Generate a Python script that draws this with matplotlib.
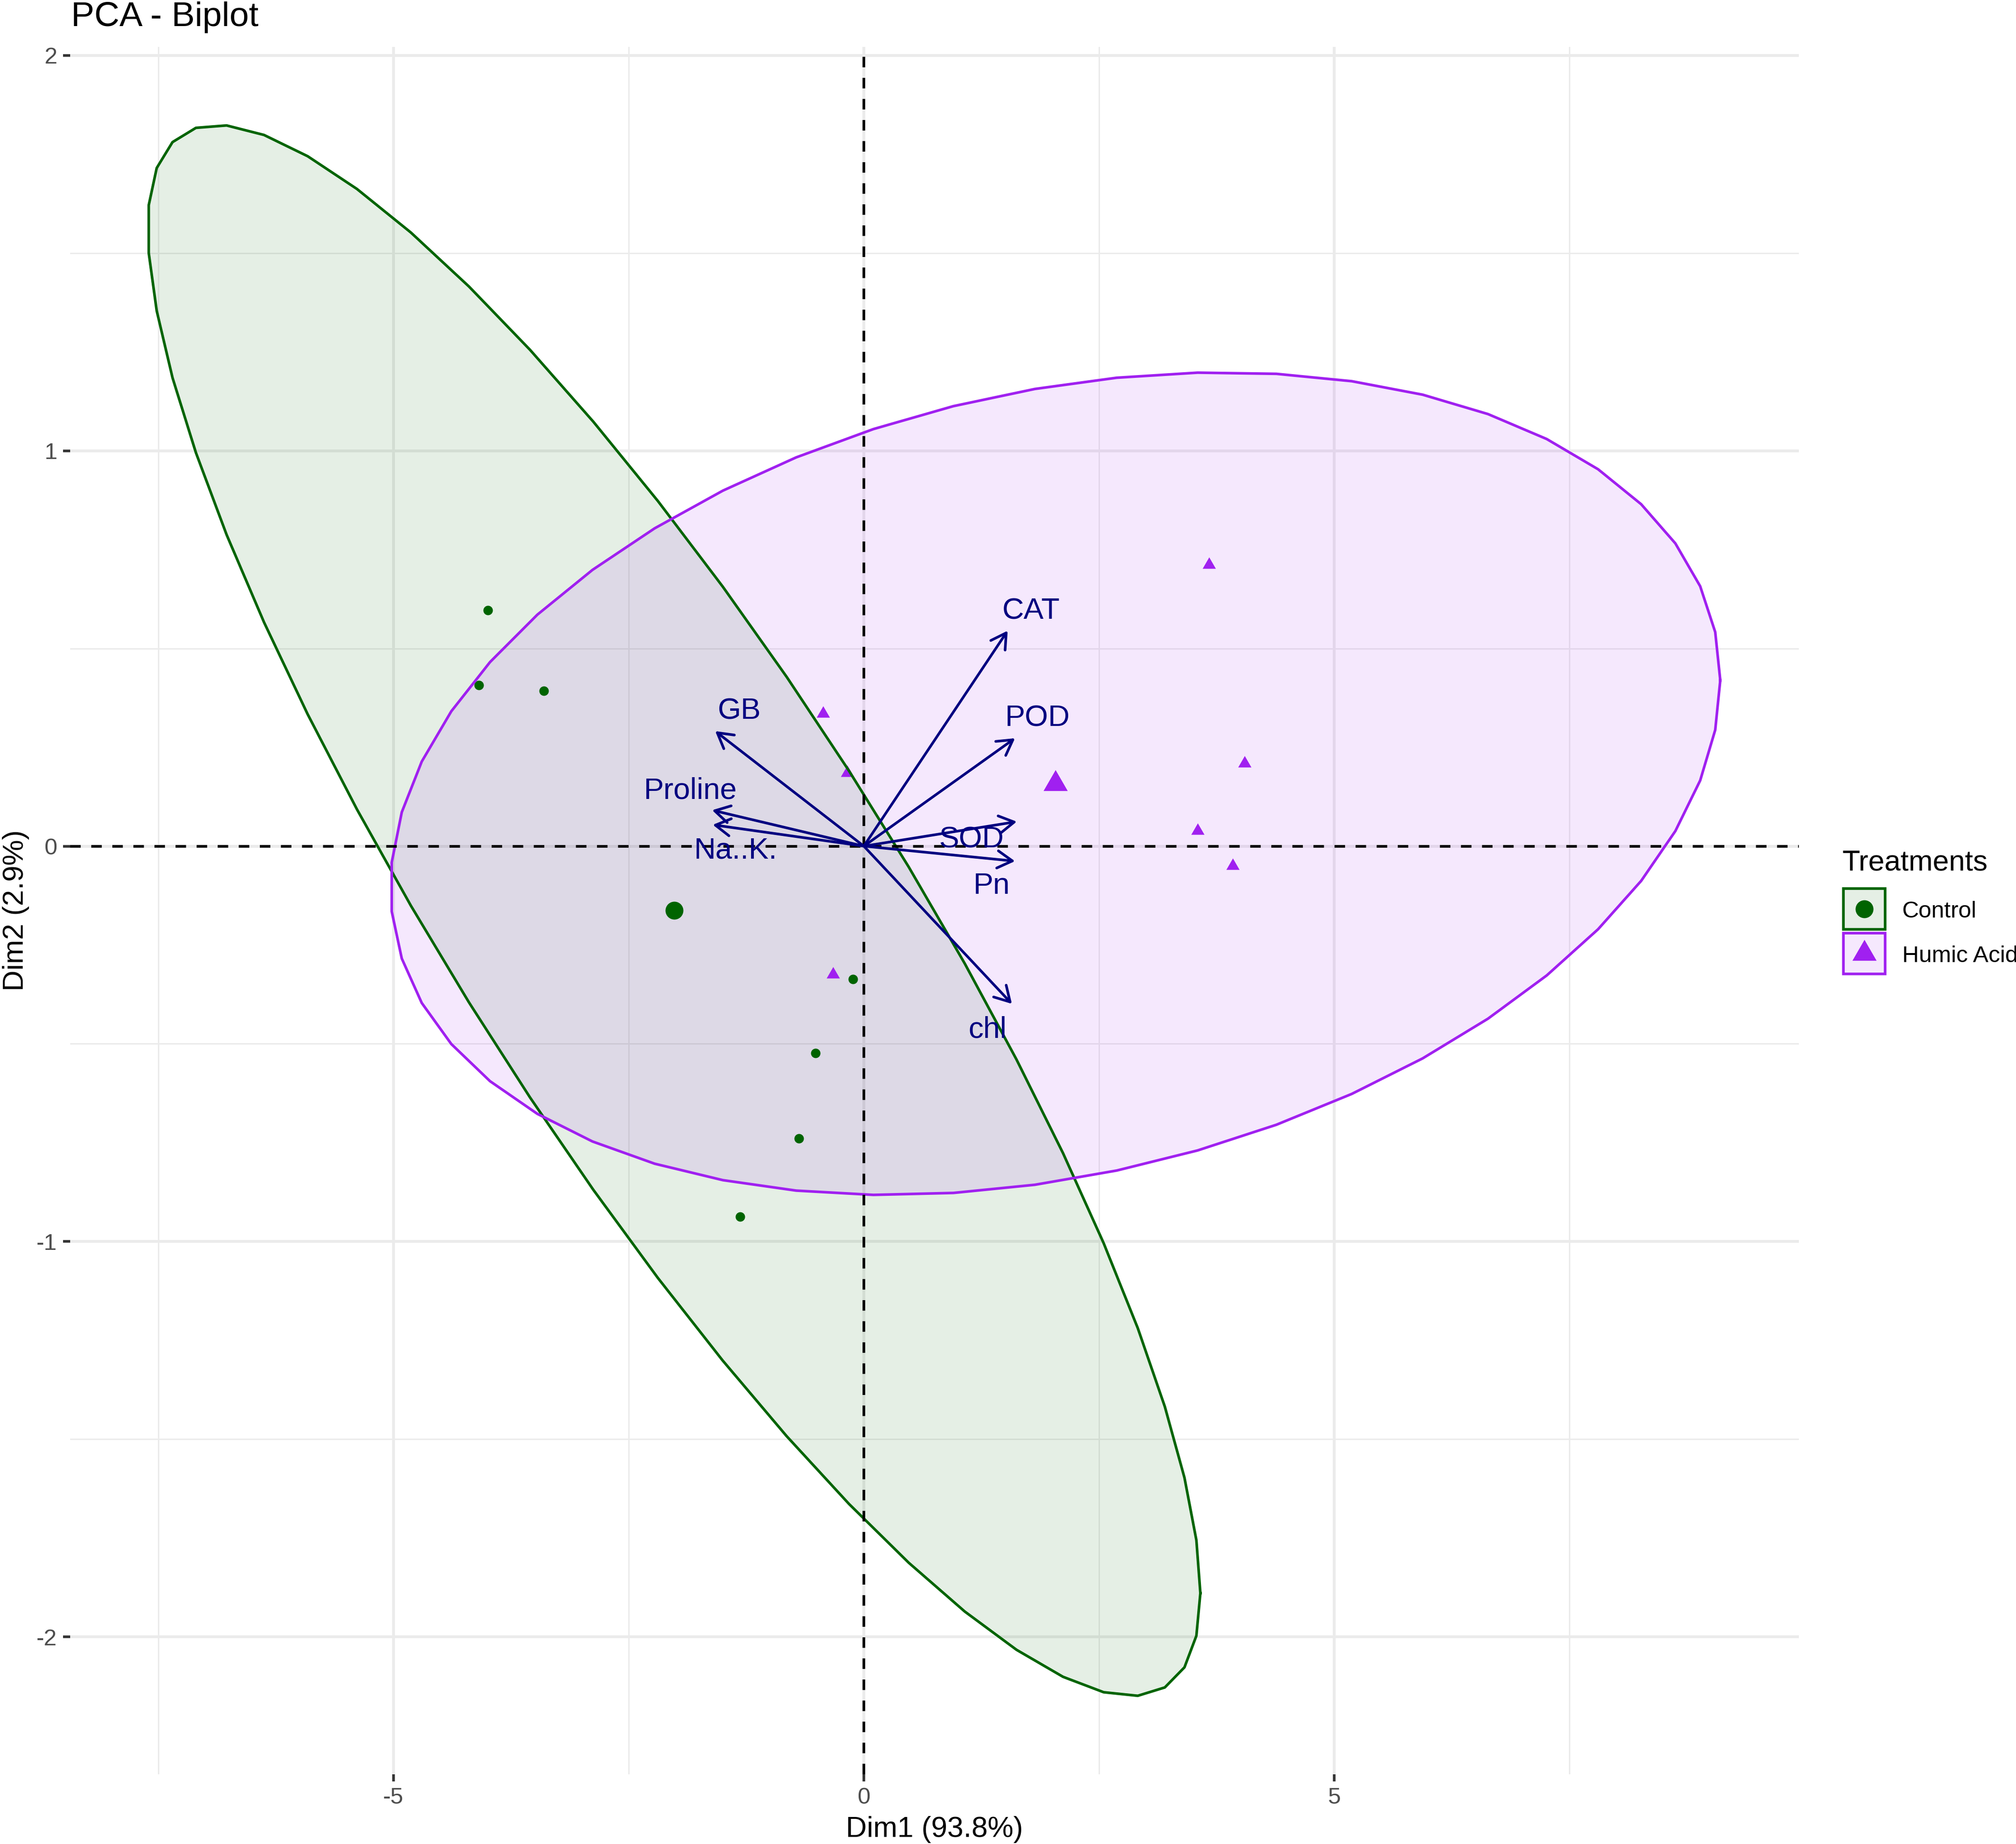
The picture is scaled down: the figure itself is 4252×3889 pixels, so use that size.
import numpy as np
import matplotlib
matplotlib.use("Agg")
import matplotlib.pyplot as plt
from matplotlib.lines import Line2D
from matplotlib.patches import Rectangle

plt.rcParams['font.family'] = ['Liberation Sans', 'DejaVu Sans']
plt.rcParams['axes.unicode_minus'] = False

# individuals (PCA scores, Dim1 / Dim2)
groups = ["Control", "Humic Acid"]
colors = ["#006400", "#A020F0"]

ctrl_x = [-3.994, -4.090, -3.403, -0.116, -0.513, -0.691, -1.314]
ctrl_y = [0.597, 0.407, 0.393, -0.336, -0.524, -0.739, -0.937]
hum_x = [3.670, 4.049, 3.549, 3.919, -0.435, -0.174, -0.328]
hum_y = [0.712, 0.209, 0.039, -0.050, 0.335, 0.185, -0.324]

# variables (arrows)
var_names = ["CAT", "POD", "SOD", "Pn", "chl", "GB", "Proline", "Na..K."]
var_x = [1.529, 1.607, 1.626, 1.607, 1.574, -1.580, -1.613, -1.606]
var_y = [0.545, 0.273, 0.062, -0.038, -0.399, 0.291, 0.091, 0.054]
lab_x = [1.777, 1.848, 1.144, 1.356, 1.317, -1.323, -1.844, -1.362]
lab_y = [0.5745, 0.304, -0.004, -0.121, -0.485, 0.321, 0.120, -0.031]

xlab = "Dim1 (93.8%)"
ylab = "Dim2 (2.9%)"


def norm_ellipse(x, y, level=0.95, segments=51):
    # same as ggplot2 stat_ellipse(type = "norm")
    pts = np.column_stack([x, y])
    n = len(pts)
    center = pts.mean(axis=0)
    cov = np.cov(pts, rowvar=False)
    dfd = n - 1
    fq = dfd / 2 * ((1 - level) ** (-2 / dfd) - 1)  # qf(level, 2, dfd)
    radius = np.sqrt(2 * fq)
    t = np.linspace(0, 2 * np.pi, segments + 1)
    circle = np.column_stack([np.cos(t), np.sin(t)])
    L = np.linalg.cholesky(cov)
    return center + radius * circle @ L.T


W, H = 4252, 3889
DPI = 400
fig = plt.figure(figsize=(W / DPI, H / DPI), dpi=DPI)
fx = lambda px: px / W
fy = lambda py: 1 - py / H
ax = fig.add_axes([fx(148), fy(3742), (3794 - 148) / W, (3742 - 99) / H])

tri = [(0, 1), (-0.866, -0.5), (0.866, -0.5)]
markers = ["o", tri]
small_ms = [3.6, 5.8]
big_ms = [6.8, 10.6]

xs = [ctrl_x, hum_x]
ys = [ctrl_y, hum_y]
ells = []
for i in range(2):
    e = norm_ellipse(xs[i], ys[i])
    ells.append(e)
    ax.fill(e[:, 0], e[:, 1], color=colors[i], alpha=0.1, lw=0, zorder=1)
for i in range(2):
    ax.plot(xs[i], ys[i], ls="none", marker=markers[i], ms=small_ms[i],
            color=colors[i], mew=0, zorder=2)
    ax.plot([np.mean(xs[i])], [np.mean(ys[i])], ls="none", marker=markers[i],
            ms=big_ms[i], color=colors[i], mew=0, zorder=2)
for i in range(2):
    e = ells[i]
    ax.plot(e[:, 0], e[:, 1], color=colors[i], lw=1.0, zorder=3)

ax.axhline(0, color="black", lw=1.0, ls=(0, (4, 4)), zorder=4)
ax.axvline(0, color="black", lw=1.0, ls=(0, (4, 4)), zorder=4)

for k in range(len(var_names)):
    ax.annotate("", xy=(var_x[k], var_y[k]), xytext=(0, 0),
                arrowprops=dict(arrowstyle="->,head_length=0.567,head_width=0.327",
                                mutation_scale=10, color="#000080", lw=1.0,
                                shrinkA=0, shrinkB=0), zorder=5)
    ax.text(lab_x[k], lab_y[k], var_names[k], color="#000080", fontsize=11.4,
            ha="center", va="baseline", zorder=6)

allpts = np.vstack(ells)
xmin, xmax = allpts[:, 0].min(), allpts[:, 0].max()
ymin, ymax = allpts[:, 1].min(), allpts[:, 1].max()
ax.set_xlim(xmin - 0.05 * (xmax - xmin), xmax + 0.05 * (xmax - xmin))
ax.set_ylim(ymin - 0.05 * (ymax - ymin), ymax + 0.05 * (ymax - ymin))

ax.set_xticks([-5, 0, 5])
ax.set_xticklabels(["-5", "0", "5"])
ax.set_yticks([-2, -1, 0, 1, 2])
ax.set_yticklabels(["-2", "-1", "0", "1", "2"])
ax.set_xticks([-7.5, -2.5, 2.5, 7.5], minor=True)
ax.set_yticks([-1.5, -0.5, 0.5, 1.5], minor=True)
ax.set_axisbelow(True)
ax.grid(which="major", color="#EBEBEB", lw=1.07)
ax.grid(which="minor", color="#EBEBEB", lw=0.53)
ax.tick_params(which="major", length=2.75, width=1.0, color="#333333",
               labelsize=8.8, labelcolor="#4D4D4D", pad=2.2)
ax.tick_params(which="minor", length=0)
for s in ax.spines.values():
    s.set_visible(False)
ax.set_xlabel(xlab, fontsize=11, labelpad=2.75)
ax.set_ylabel(ylab, fontsize=11, labelpad=2.75)

fig.text(fx(150), fy(55), "PCA - Biplot", fontsize=13.2, ha="left", va="baseline")

# legend (ggplot style keys)
fig.text(fx(3886), fy(1835), "Treatments", fontsize=11, ha="left", va="baseline")
key_tops = [1874, 1968]
for i in range(2):
    top = key_tops[i]
    fig.add_artist(Rectangle((fx(3888), fy(top + 86)), 88 / W, 86 / H,
                             transform=fig.transFigure, facecolor=colors[i],
                             alpha=None, edgecolor=colors[i], lw=1.0,
                             fill=False))
    fig.add_artist(Rectangle((fx(3888), fy(top + 86)), 88 / W, 86 / H,
                             transform=fig.transFigure, facecolor=colors[i],
                             alpha=0.1, lw=0))
    fig.add_artist(Line2D([fx(3932)], [fy(top + 43)], transform=fig.transFigure,
                          ls="none", marker=markers[i], ms=big_ms[i],
                          color=colors[i], mew=0))
    fig.text(fx(4012), fy(top + 61), groups[i], fontsize=8.8, ha="left",
             va="baseline")

fig.savefig("out.png", dpi=DPI)
